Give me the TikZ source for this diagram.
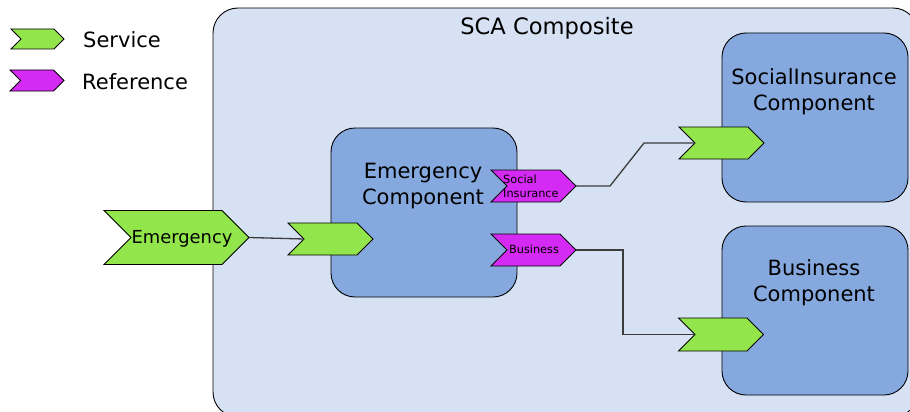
\documentclass[tikz,border=0pt]{standalone}
\usepackage{fontspec}
\setmainfont{DejaVu Sans}
\usetikzlibrary{calc}

\definecolor{compositebg}{HTML}{D6E1F4}
\definecolor{componentbg}{HTML}{85A9DE}
\definecolor{servicegreen}{HTML}{92E64B}
\definecolor{refmagenta}{HTML}{D42AF4}
\definecolor{wire}{HTML}{3C3C3C}

% #1 name, #2 centre x, #3 centre y, #4 half width, #5 half height, #6 fill
% draws a chevron whose notch and tip are as deep as its half height,
% and leaves coordinates <name>-in (notch) and <name>-out (tip)
\newcommand\chevron[6]{%
  \filldraw[chevline, fill=#6]
    (#2-#4,#3-#5) -- (#2+#4-#5,#3-#5) -- (#2+#4,#3) -- (#2+#4-#5,#3+#5)
    -- (#2-#4,#3+#5) -- (#2-#4+#5,#3) -- cycle;
  \coordinate (#1-in) at (#2-#4+#5,#3);
  \coordinate (#1-out) at (#2+#4,#3);
}

\tikzset{
  boxline/.style={draw=black, line width=0.9pt},
  compbox/.style={boxline, fill=componentbg, rounded corners=24pt},
  chevline/.style={draw=black, line width=0.8pt, line join=miter},
  wireline/.style={draw=wire, line width=1.3pt},
  bigtext/.style={font=\fontsize{21}{26}\selectfont, align=center, inner sep=0pt},
  smalltext/.style={font=\fontsize{11.3}{14}\selectfont, align=left, inner sep=0pt},
}

\begin{document}
\begin{tikzpicture}[x=1pt, y=-1pt]
  \useasboundingbox (0,0) rectangle (910,412);
  \clip (0,0) rectangle (910,412);

  % composite
  \draw[boxline, fill=compositebg, rounded corners=25pt] (213,8) rectangle (918,417);
  \node[font=\fontsize{22.6}{27}\selectfont, inner sep=0pt] (title) at (547,28) {SCA Composite};

  % components
  \draw[compbox] (331,128) rectangle (517,297);
  \draw[compbox] (722,33) rectangle (908,202);
  \draw[compbox] (722,226) rectangle (908,395);
  \node[bigtext] (emcomp) at (423,186.5) {Emergency\\Component};
  \node[bigtext] (sicomp) at (814,91.5) {SocialInsurance\\Component};
  \node[bigtext] (buscomp) at (814,283) {Business\\Component};

  % legend
  \chevron{legsvc}{37.5}{39}{26.5}{10}{servicegreen}
  \chevron{legref}{37}{80.5}{27}{10.5}{refmagenta}
  \node[font=\fontsize{21}{25}\selectfont, anchor=west, inner sep=0pt] (legsvctext) at (83,40) {Service};
  \node[font=\fontsize{21}{25}\selectfont, anchor=west, inner sep=0pt] (legreftext) at (82,82) {Reference};

  % services and references
  \chevron{emsvc}{176.5}{237.5}{72.5}{27}{servicegreen}
  \chevron{emcompsvc}{330.5}{239}{42.5}{16}{servicegreen}
  \chevron{siref}{533.5}{186}{42.5}{16}{refmagenta}
  \chevron{busref}{533.5}{250}{42.5}{16}{refmagenta}
  \chevron{sisvc}{721.5}{143}{42.5}{16}{servicegreen}
  \chevron{bussvc}{721}{334.5}{42.5}{16.5}{servicegreen}

  \node[font=\fontsize{17.9}{21}\selectfont, inner sep=0pt] (emsvctext) at (182,239) {Emergency};
  \node[smalltext, anchor=west] (sireftext) at (503,186) {Social\\Insurance};
  \node[smalltext] (busreftext) at (534,249.5) {Business};

  % wires
  \draw[wireline] (emsvc-out) -- (emcompsvc-in);
  \draw[wireline] (siref-out) -- ++(34,0) -- ++(34,-43) -- (sisvc-in);
  \draw[wireline] (busref-out) -- ++(47,0) |- (bussvc-in);
\end{tikzpicture}
\end{document}
